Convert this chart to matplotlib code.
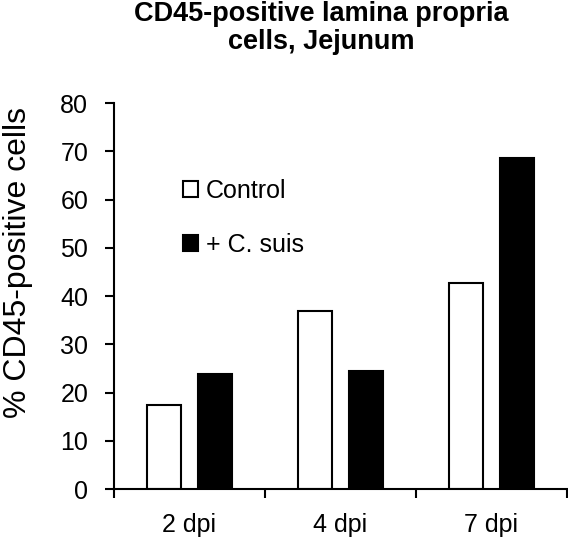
import matplotlib.pyplot as plt
import numpy as np

plt.rcParams['font.family'] = ['Liberation Sans', 'DejaVu Sans']

days = ['2 dpi', '4 dpi', '7 dpi']
control = [17.5, 36.8, 42.7]
c_suis = [23.9, 24.5, 68.6]

x = np.arange(len(days))
w = 0.225
off = 0.166

fig = plt.figure(figsize=(5.68, 5.41), dpi=100)
ax = fig.add_axes([0.2007, 0.0961, 0.7975, 0.7135])

ax.bar(x - off, control, w, color='white', edgecolor='black', linewidth=1.5, label='Control')
ax.bar(x + off, c_suis, w, color='black', edgecolor='black', linewidth=1.5, label='+ C. suis')

ax.set_xlim(-0.5, 2.5)
ax.set_ylim(0, 80)
ax.set_yticks(np.arange(0, 81, 10))
ax.set_xticks(x)
ax.set_xticklabels(days)
ax.set_xticks([-0.5, 0.5, 1.5, 2.5], minor=True)
ax.tick_params(axis='x', which='major', length=0, pad=17, labelsize=18)
ax.tick_params(axis='x', which='minor', length=6.5, width=1.5, direction='out')
ax.tick_params(axis='y', length=6.5, width=1.5, labelsize=18, pad=12)

for s in ['top', 'right']:
    ax.spines[s].set_visible(False)
for s in ['left', 'bottom']:
    ax.spines[s].set_linewidth(1.5)

ax.set_ylabel('% CD45-positive cells', fontsize=23, va='center')
ax.yaxis.set_label_coords(-0.213, 0.588)
fig.text(0.565, 0.961, 'CD45-positive lamina propria', fontsize=19.5, fontweight='bold',
         ha='center', va='baseline')
fig.text(0.565, 0.909, 'cells, Jejunum', fontsize=19.5, fontweight='bold',
         ha='center', va='baseline')

ax.legend(frameon=False, fontsize=18, loc='upper left', bbox_to_anchor=(0.103, 0.862),
          handlelength=0.6, handleheight=0.63, handletextpad=0.3, labelspacing=1.2)

fig.savefig('out.png', dpi=100)
